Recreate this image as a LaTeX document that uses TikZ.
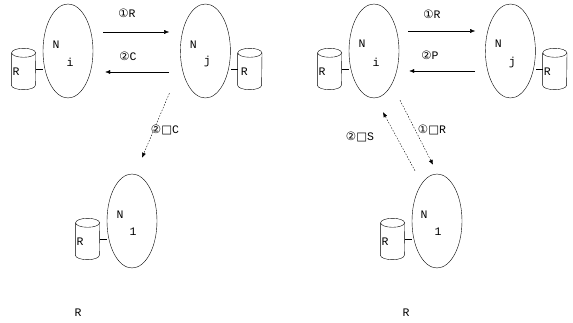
\documentclass[tikz,border=0pt]{standalone}
\usepackage{fontspec}
\setmainfont{Liberation Mono}
\newfontfamily\symfont{DejaVu Sans}
\usetikzlibrary{positioning,shapes.geometric,arrows.meta}

\begin{document}
\begin{tikzpicture}[x=1pt, y=1pt, >={Latex[length=5pt,width=4pt]},
		uzel/.style={ellipse, draw, minimum width=50pt, minimum height=94pt, inner sep=0pt},
		db/.style={rectangle, minimum width=24pt, minimum height=41pt, inner sep=0pt},
		popis/.style={font=\fontsize{11.5}{13}\selectfont, inner sep=0pt},
		tecky/.style={->, dash pattern=on 1.5pt off 1.5pt}]
			
			\useasboundingbox (0,0) rectangle (573,323);
			
			% levá část
			\node[uzel] (Ni) at (68,272) {};
			\node[uzel, right=87pt of Ni] (Nj) {};
			\node[uzel] (Nl) at (132,102) {};
			
			\node[popis] (Ni-n) at ([shift={(-12,6)}]Ni.center) {N};
			\node[popis] (Ni-i) at ([shift={(2,-11)}]Ni.center) {i};
			\node[popis] (Nj-n) at ([shift={(-12,6)}]Nj.center) {N};
			\node[popis] (Nj-j) at ([shift={(2,-11)}]Nj.center) {j};
			\node[popis] (Nl-n) at ([shift={(-12,6)}]Nl.center) {N};
			\node[popis] (Nl-l) at ([shift={(1,-11)}]Nl.center) {1};
			
			% databáze levé části
			\node[db, left=7pt of Ni, yshift=-18pt] (Ri) {};
			\node[db, right=7pt of Nj, yshift=-18pt] (Rj) {};
			\node[db, left=7pt of Nl, yshift=-18pt] (Rl) {};
			\node[popis, anchor=west] (Ri-t) at ([shift={(1,-3)}]Ri.west) {R};
			\node[popis, anchor=west] (Rj-t) at ([shift={(3,-3)}]Rj.west) {R};
			\node[popis, anchor=west] (Rl-t) at ([shift={(1,-3)}]Rl.west) {R};
			\draw (Ri.east) -- (Ri.east -| Ni.west);
			\draw (Rj.west) -- (Rj.west -| Nj.east);
			\draw (Rl.east) -- (Rl.east -| Nl.west);
			
			% šipky levé části
			\draw[->] ([shift={(10,19)}]Ni.east) -- ([shift={(-11,19)}]Nj.west);
			\draw[->] ([shift={(-11,-21)}]Nj.west) -- ([shift={(12,-21)}]Ni.east);
			\draw[tecky] ([shift={(-36,5)}]Nj.south) -- ([shift={(10,16)}]Nl.north);
			
			% popisky levé části
			\node[popis] (m1) at (127,310) {{\symfont ①}R};
			\node[popis] (m2) at (128,267) {{\symfont ②}C};
			\node[popis] (m3) at (165,193) {{\symfont ②□}C};
			\node[popis] (Rdole1) at (78,10) {R};
			
			% pravá část
			\node[uzel] (Pi) at (374,272) {};
			\node[uzel, right=86pt of Pi] (Pj) {};
			\node[uzel] (Pl) at (437,102) {};
			
			\node[popis] (Pi-n) at ([shift={(-12,7)}]Pi.center) {N};
			\node[popis] (Pi-i) at ([shift={(2,-11)}]Pi.center) {i};
			\node[popis] (Pj-n) at ([shift={(-12,7)}]Pj.center) {N};
			\node[popis] (Pj-j) at ([shift={(2,-12)}]Pj.center) {j};
			\node[popis] (Pl-n) at ([shift={(-13,6)}]Pl.center) {N};
			\node[popis] (Pl-l) at ([shift={(1,-11)}]Pl.center) {1};
			
			% databáze pravé části
			\node[db, left=7pt of Pi, yshift=-18pt] (Qi) {};
			\node[db, right=7pt of Pj, yshift=-18pt] (Qj) {};
			\node[db, left=7pt of Pl, yshift=-18pt] (Ql) {};
			\node[popis, anchor=west] (Qi-t) at ([shift={(1,-3)}]Qi.west) {R};
			\node[popis, anchor=west] (Qj-t) at ([shift={(1,-3)}]Qj.west) {R};
			\node[popis, anchor=west] (Ql-t) at ([shift={(1,-3)}]Ql.west) {R};
			\draw (Qi.east) -- (Qi.east -| Pi.west);
			\draw (Qj.west) -- (Qj.west -| Pj.east);
			\draw (Ql.east) -- (Ql.east -| Pl.west);
			
			% válce databází
			\foreach \c in {Ri,Rj,Rl,Qi,Qj,Ql} {
				\draw ([yshift=-4.5pt]\c.north) ellipse [x radius=12pt, y radius=4.5pt];
				\draw ([yshift=-4.5pt]\c.north west) -- ([yshift=4.5pt]\c.south west)
					arc [start angle=180, end angle=360, x radius=12pt, y radius=4.5pt]
					-- ([yshift=-4.5pt]\c.north east);
			}
			
			% šipky pravé části
			\draw[->] ([shift={(9,20)}]Pi.east) -- ([shift={(-10,20)}]Pj.west);
			\draw[->] ([shift={(-10,-20)}]Pj.west) -- ([shift={(10,-20)}]Pi.east);
			\draw[tecky] ([shift={(-22,3)}]Pl.north) -- ([shift={(9,-14)}]Pi.south);
			\draw[tecky] ([shift={(26,-2)}]Pi.south) -- ([shift={(-4,9)}]Pl.north);
			
			% popisky pravé části
			\node[popis] (p1) at (432,309) {{\symfont ①}R};
			\node[popis] (p2) at (430,268) {{\symfont ②}P};
			\node[popis] (p3) at (360,186) {{\symfont ②□}S};
			\node[popis] (p4) at (432,193) {{\symfont ①□}R};
			\node[popis] (Rdole2) at (406,10) {R};
			
		\end{tikzpicture}
\end{document}
